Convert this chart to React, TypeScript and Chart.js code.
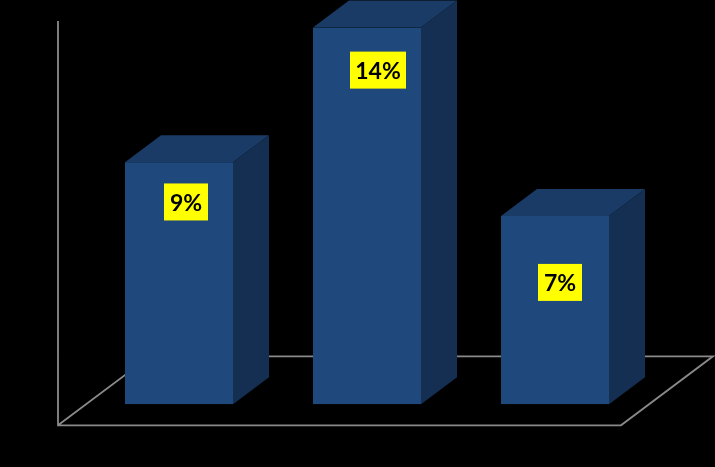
import React, { useEffect, useRef } from "react";
import { Chart, registerables } from "chart.js";

Chart.register(...registerables);

const categories = ["A", "B", "C"];
const values = [9, 14, 7];
const labels = ["9%", "14%", "7%"];
const labelAnchors = [7.52, 12.42, 4.53];

const FRONT = "#1F497D";
const TOP = "#1A3B65";
const SIDE = "#152F53";
const LINE = "#8A8A8A";
const DX = 36;
const DY = 27;
const LABEL_SHIFT = [7, 11, 5];

const box3d = {
  id: "box3d",
  beforeDatasetsDraw(chart: any) {
    const { ctx } = chart;
    const y0 = chart.scales.y.getPixelForValue(0);
    const meta = chart.getDatasetMeta(0);
    const first = meta.data[0];
    const last = meta.data[meta.data.length - 1];
    const half = first.width / 2;

    // wall and floor outline
    const cx = first.x - half - 67;
    const cy = y0 + 21;
    const frontEnd = last.x + half + 12;
    const backY = y0 - 48;
    ctx.save();
    ctx.strokeStyle = LINE;
    ctx.lineWidth = 1.8;
    ctx.beginPath();
    ctx.moveTo(cx, 21);
    ctx.lineTo(cx, cy);
    ctx.lineTo(frontEnd, cy);
    ctx.lineTo(frontEnd + 92, backY);
    ctx.lineTo(cx + 92, backY);
    ctx.lineTo(cx, cy);
    ctx.stroke();

    // top and side faces
    meta.data.forEach((bar: any) => {
      const l = bar.x - bar.width / 2;
      const r = bar.x + bar.width / 2;
      const t = bar.y;
      const b = y0;
      ctx.fillStyle = TOP;
      ctx.beginPath();
      ctx.moveTo(l, t);
      ctx.lineTo(l + DX, t - DY);
      ctx.lineTo(r + DX, t - DY);
      ctx.lineTo(r, t);
      ctx.closePath();
      ctx.fill();
      ctx.fillStyle = SIDE;
      ctx.beginPath();
      ctx.moveTo(r, t);
      ctx.lineTo(r + DX, t - DY);
      ctx.lineTo(r + DX, b - DY);
      ctx.lineTo(r, b);
      ctx.closePath();
      ctx.fill();
    });
    ctx.restore();
  },
  afterDatasetsDraw(chart: any) {
    const { ctx } = chart;
    const meta = chart.getDatasetMeta(0);
    ctx.save();
    ctx.font = "bold 23px Lato, 'Open Sans', sans-serif";
    ctx.textAlign = "center";
    ctx.textBaseline = "middle";
    meta.data.forEach((bar: any, i: number) => {
      const y = chart.scales.y.getPixelForValue(labelAnchors[i]);
      const w = labels[i].length > 2 ? 56 : 44;
      const cx = bar.x + LABEL_SHIFT[i];
      ctx.fillStyle = "#FFFF00";
      ctx.fillRect(cx - w / 2, y - 18.5, w, 37);
      ctx.fillStyle = "#000000";
      ctx.fillText(labels[i], cx, y + 1.5);
    });
    ctx.restore();
  },
};

export default function App() {
  const ref = useRef<HTMLCanvasElement>(null);
  useEffect(() => {
    document.body.style.background = "#000";
    const chart = new Chart(ref.current as HTMLCanvasElement, {
      type: "bar",
      data: {
        labels: categories,
        datasets: [
          {
            data: values,
            backgroundColor: FRONT,
            borderWidth: 0,
            categoryPercentage: 1,
            barPercentage: 108 / 188,
          },
        ],
      },
      options: {
        responsive: false,
        animation: false,
        devicePixelRatio: 1,
        layout: { padding: { left: 85, right: 66, top: 27.6, bottom: 62.7 } },
        plugins: { legend: { display: false }, tooltip: { enabled: false } },
        scales: {
          x: { display: false },
          y: { display: false, min: 0, max: 14 },
        },
      },
      plugins: [box3d],
    } as any);
    return () => chart.destroy();
  }, []);
  return (
    <div style={{ position: "absolute", left: 0, top: 0, width: 715, height: 467, background: "#000" }}>
      <canvas ref={ref} width={715} height={467} style={{ display: "block" }} />
    </div>
  );
}
